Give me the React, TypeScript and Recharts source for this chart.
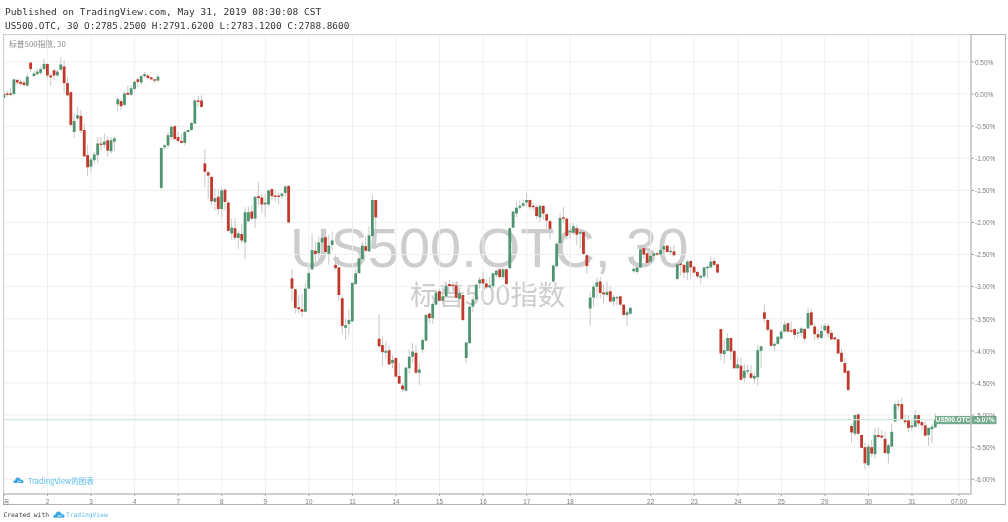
import { Bar, CartesianGrid, ComposedChart, ReferenceLine, XAxis, YAxis } from 'recharts'

const opens = [
  -0.06, 0.01, 0.01, 0, 0.22, 0.19, 0.18, 0.13, 0.49, 0.28,
  0.31, 0.33, 0.39, 0.47, 0.29, 0.37, 0.29, 0.38, 0.43, 0.17,
  0.03, -0.59, -0.38, -0.34, -0.56, -0.95, -1.13, -1.03, -0.95, -0.77,
  -0.79, -0.72, -0.89, -0.74, -0.16, -0.11, -0.17, 0.02, -0.01, 0.08,
  0.23, 0.18, 0.28, 0.29, 0.26, 0.23, 0.21, -1.46, -0.83, -0.8,
  -0.67, -0.5, -0.67, -0.73, -0.76, -0.59, -0.56, -0.46, -0.1, -0.1,
  -1.08, -1.22, -1.29, -1.68, -1.6, -1.79, -1.49, -1.69, -2.17, -2.09,
  -2.24, -2.18, -2.31, -1.98, -1.83, -1.94, -1.59, -1.61, -1.72, -1.72,
  -1.48, -1.58, -1.58, -1.59, -1.54, -1.43, -2.87, -3.04, -3.32, -3.35,
  -3.39, -3.03, -2.73, -2.44, -2.48, -2.31, -2.23, -2.49, -2.35, -2.66,
  -2.7, -3.18, -3.64, -3.58, -3.54, -2.96, -2.79, -2.57, -2.37, -2.45,
  -2.21, -1.65, -3.81, -3.91, -4.03, -3.99, -4.19, -4.11, -4.39, -4.54,
  -4.62, -4.27, -4.09, -4.03, -4.34, -3.98, -3.84, -3.42, -3.49, -3.28,
  -3.07, -3.22, -3.15, -2.96, -2.97, -2.98, -3.19, -3.13, -4.11, -3.88,
  -3.31, -3.2, -2.95, -2.88, -2.95, -3.01, -2.99, -2.82, -2.73, -2.85,
  -2.73, -2.71, -2.08, -1.86, -1.77, -1.74, -1.69, -1.65, -1.74, -1.76,
  -1.92, -1.74, -1.87, -1.98, -2.92, -2.68, -2.32, -1.92, -1.94, -2.15,
  -2.16, -2.09, -2.17, -2.15, -2.51, -3.34, -3.17, -3.0, -2.92, -3.09,
  -3.13, -3.07, -3.23, -3.17, -3.15, -3.28, -3.44, -3.42, -2.76, -2.77,
  -2.7, -2.4, -2.48, -2.61, -2.52, -2.48, -2.5, -2.42, -2.36, -2.46,
  -2.45, -2.88, -2.64, -2.66, -2.78, -2.6, -2.69, -2.77, -2.86, -2.84,
  -2.71, -2.7, -2.6, -2.65, -3.66, -4.05, -4.0, -3.8, -4.0, -4.27,
  -4.23, -4.42, -4.32, -4.35, -4.43, -4.41, -4.0, -3.4, -3.52, -3.67,
  -3.92, -3.89, -3.81, -3.7, -3.57, -3.68, -3.66, -3.73, -3.72, -3.66,
  -3.65, -3.4, -3.62, -3.74, -3.8, -3.68, -3.61, -3.72, -3.79, -3.82,
  -4.03, -4.19, -4.31, -5.17, -5.29, -4.99, -5.31, -5.5, -5.78, -5.5,
  -5.61, -5.31, -5.32, -5.37, -5.6, -5.49, -5.1, -4.83, -4.83, -5.08,
  -5.08, -5.19, -5.18, -5.0, -5.11, -5.16, -5.31, -5.22, -5.19,
]

const highs = [
  0.04, 0.05, 0.09, 0.23, 0.24, 0.23, 0.22, 0.31, 0.5, 0.36,
  0.4, 0.43, 0.56, 0.47, 0.32, 0.39, 0.38, 0.57, 0.53, 0.26,
  0.04, -0.3, -0.2, -0.25, -0.46, -0.79, -0.98, -0.9, -0.67, -0.67,
  -0.61, -0.66, -0.67, -0.67, -0.05, -0.07, 0.03, 0.13, 0.14, 0.22,
  0.26, 0.3, 0.35, 0.31, 0.27, 0.24, 0.3, -0.83, -0.77, -0.59,
  -0.48, -0.48, -0.59, -0.61, -0.57, -0.54, -0.43, -0.08, -0.03, -0.02,
  -0.86, -1.19, -1.28, -1.47, -1.48, -1.47, -1.47, -1.67, -1.94, -1.94,
  -2.13, -2.02, -1.76, -1.75, -1.73, -1.59, -1.37, -1.55, -1.56, -1.49,
  -1.47, -1.5, -1.53, -1.53, -1.42, -1.42, -2.72, -3.03, -3.13, -3.11,
  -2.95, -2.71, -2.18, -2.3, -2.22, -2.12, -2.09, -2.19, -2.14, -2.51,
  -2.69, -3.14, -3.49, -3.35, -2.93, -2.71, -2.38, -2.3, -2.22, -2.06,
  -1.57, -1.65, -3.43, -3.78, -3.86, -3.91, -4.06, -4.1, -4.19, -4.5,
  -4.25, -3.98, -3.88, -3.91, -4.19, -3.8, -3.43, -3.4, -3.23, -3.05,
  -3.03, -3.05, -2.95, -2.89, -2.92, -2.92, -3.05, -3.12, -3.86, -3.3,
  -3.15, -2.95, -2.85, -2.77, -2.89, -2.85, -2.78, -2.73, -2.7, -2.7,
  -2.71, -2.08, -1.82, -1.68, -1.66, -1.64, -1.54, -1.64, -1.7, -1.73,
  -1.73, -1.73, -1.86, -1.96, -2.66, -2.32, -1.86, -1.76, -1.92, -2.01,
  -2.01, -2.04, -2.11, -2.14, -2.49, -3.09, -2.97, -2.86, -2.85, -2.97,
  -2.92, -3.0, -3.13, -3.14, -3.14, -3.27, -3.36, -3.31, -2.69, -2.66,
  -2.35, -2.38, -2.46, -2.48, -2.45, -2.45, -2.4, -2.35, -2.35, -2.38,
  -2.35, -2.64, -2.61, -2.64, -2.58, -2.58, -2.66, -2.76, -2.82, -2.69,
  -2.67, -2.53, -2.55, -2.64, -3.66, -3.82, -3.73, -3.79, -3.99, -4.11,
  -4.11, -4.2, -4.22, -4.22, -4.35, -3.91, -3.91, -3.28, -3.49, -3.66,
  -3.86, -3.77, -3.67, -3.54, -3.55, -3.54, -3.65, -3.66, -3.63, -3.64,
  -3.32, -3.34, -3.57, -3.67, -3.6, -3.57, -3.58, -3.67, -3.78, -3.81,
  -3.97, -4.11, -4.3, -5.13, -4.99, -4.97, -5.3, -5.43, -5.44, -5.39,
  -5.2, -5.19, -5.23, -5.26, -5.44, -5.13, -4.79, -4.77, -4.73, -5.0,
  -5.0, -5.08, -4.92, -4.99, -5.1, -5.1, -5.18, -5.14, -4.97,
]

const lows = [
  -0.07, -0.04, -0.04, -0.01, 0.14, 0.13, 0.13, 0.12, 0.35, 0.27,
  0.29, 0.3, 0.38, 0.24, 0.13, 0.22, 0.27, 0.36, 0.01, -0.04,
  -0.51, -0.68, -0.41, -0.61, -0.98, -1.28, -1.22, -1.08, -1.08, -0.88,
  -0.84, -0.98, -0.93, -0.88, -0.26, -0.25, -0.18, -0.02, -0.03, 0.07,
  0.11, 0.15, 0.26, 0.23, 0.21, 0.16, 0.18, -1.49, -0.86, -0.85,
  -0.72, -0.72, -0.75, -0.77, -0.8, -0.6, -0.57, -0.47, -0.2, -0.21,
  -1.45, -1.63, -1.73, -1.82, -1.88, -1.92, -1.81, -2.14, -2.27, -2.28,
  -2.41, -2.32, -2.57, -1.99, -1.96, -2.08, -1.73, -1.86, -1.92, -1.75,
  -1.66, -1.68, -1.72, -1.63, -1.6, -2.01, -3.23, -3.42, -3.42, -3.47,
  -3.4, -3.04, -2.74, -2.69, -2.56, -2.32, -2.48, -2.66, -2.44, -2.74,
  -3.23, -3.74, -3.83, -3.75, -3.55, -2.97, -2.8, -2.58, -2.46, -2.46,
  -2.22, -2.19, -3.94, -4.24, -4.12, -4.22, -4.27, -4.41, -4.52, -4.65,
  -4.63, -4.35, -4.19, -4.36, -4.53, -4.04, -3.85, -3.57, -3.58, -3.29,
  -3.23, -3.26, -3.16, -3.0, -3.05, -3.19, -3.21, -3.53, -4.19, -3.89,
  -3.39, -3.22, -3.03, -3.03, -3.04, -3.02, -3.03, -2.85, -2.87, -2.89,
  -2.97, -2.73, -2.09, -1.92, -1.8, -1.76, -1.75, -1.8, -1.81, -1.94,
  -1.99, -1.96, -2.09, -2.26, -2.93, -2.71, -2.44, -2.01, -2.27, -2.25,
  -2.19, -2.35, -2.4, -2.51, -2.79, -3.61, -3.31, -3.18, -3.18, -3.26,
  -3.16, -3.25, -3.31, -3.29, -3.3, -3.46, -3.62, -3.44, -2.79, -2.8,
  -2.71, -2.56, -2.66, -2.64, -2.6, -2.52, -2.52, -2.45, -2.48, -2.51,
  -2.53, -2.9, -2.82, -2.87, -2.9, -2.87, -2.79, -2.87, -2.95, -2.87,
  -2.87, -2.71, -2.69, -2.79, -4.15, -4.2, -4.01, -4.14, -4.28, -4.28,
  -4.46, -4.49, -4.37, -4.44, -4.51, -4.54, -4.27, -3.56, -3.7, -3.94,
  -4.01, -3.91, -3.82, -3.71, -3.71, -3.71, -3.82, -3.8, -3.77, -3.86,
  -3.66, -3.61, -3.83, -3.83, -3.81, -3.7, -3.8, -3.83, -3.84, -4.05,
  -4.18, -4.35, -4.62, -5.43, -5.33, -5.31, -5.52, -5.85, -5.8, -5.65,
  -5.67, -5.36, -5.36, -5.62, -5.75, -5.5, -5.11, -4.92, -5.07, -5.14,
  -5.27, -5.24, -5.2, -5.17, -5.24, -5.33, -5.48, -5.44, -5.21,
]

const closes = [
  0, -0.01, -0.01, 0.23, 0.18, 0.16, 0.14, 0.27, 0.39, 0.32,
  0.35, 0.39, 0.47, 0.29, 0.26, 0.29, 0.35, 0.46, 0.17, -0.02,
  -0.48, -0.42, -0.33, -0.57, -0.97, -1.14, -1.02, -0.94, -0.77, -0.79,
  -0.74, -0.88, -0.72, -0.69, -0.08, -0.19, 0.01, -0.01, 0.09, 0.19,
  0.19, 0.28, 0.31, 0.25, 0.23, 0.21, 0.27, -0.84, -0.8, -0.64,
  -0.51, -0.7, -0.73, -0.76, -0.59, -0.56, -0.45, -0.1, -0.11, -0.2,
  -1.21, -1.27, -1.67, -1.62, -1.79, -1.5, -1.68, -2.13, -2.08, -2.24,
  -2.17, -2.28, -1.84, -1.84, -1.94, -1.6, -1.62, -1.72, -1.69, -1.5,
  -1.59, -1.59, -1.59, -1.55, -1.44, -2.0, -3.03, -3.33, -3.35, -3.39,
  -3.03, -2.79, -2.43, -2.49, -2.31, -2.24, -2.46, -2.36, -2.28, -2.71,
  -3.13, -3.61, -3.6, -3.52, -2.94, -2.79, -2.56, -2.36, -2.44, -2.2,
  -1.65, -1.92, -3.93, -4.02, -4.0, -4.21, -4.14, -4.4, -4.51, -4.6,
  -4.26, -4.09, -4.01, -4.34, -4.29, -3.83, -3.44, -3.49, -3.27, -3.09,
  -3.22, -3.15, -2.99, -2.99, -2.99, -3.17, -3.1, -3.52, -3.87, -3.31,
  -3.2, -2.97, -2.89, -2.95, -3.01, -2.98, -2.79, -2.75, -2.85, -2.73,
  -2.96, -2.09, -1.83, -1.77, -1.74, -1.7, -1.65, -1.76, -1.76, -1.9,
  -1.74, -1.86, -1.97, -2.1, -2.67, -2.33, -1.93, -1.94, -2.21, -2.13,
  -2.06, -2.19, -2.15, -2.49, -2.68, -3.17, -3.0, -2.93, -3.1, -3.12,
  -3.08, -3.23, -3.16, -3.16, -3.28, -3.44, -3.4, -3.33, -2.72, -2.7,
  -2.42, -2.5, -2.63, -2.52, -2.48, -2.49, -2.43, -2.37, -2.46, -2.44,
  -2.51, -2.65, -2.66, -2.78, -2.61, -2.7, -2.78, -2.84, -2.83, -2.7,
  -2.69, -2.61, -2.66, -2.78, -4.04, -3.99, -3.8, -4.01, -4.27, -4.21,
  -4.45, -4.31, -4.3, -4.42, -4.39, -3.99, -3.93, -3.5, -3.67, -3.92,
  -3.89, -3.78, -3.7, -3.59, -3.7, -3.7, -3.75, -3.71, -3.65, -3.81,
  -3.41, -3.6, -3.74, -3.79, -3.69, -3.61, -3.73, -3.82, -3.82, -4.04,
  -4.17, -4.34, -4.61, -5.27, -5.0, -5.29, -5.51, -5.75, -5.49, -5.6,
  -5.31, -5.34, -5.35, -5.59, -5.47, -5.26, -4.83, -4.85, -5.06, -5.11,
  -5.2, -5.16, -5.0, -5.13, -5.16, -5.32, -5.2, -5.18, -5.07,
]

const timeTicks = [0, 13, 26, 39, 52, 65, 78, 91, 104, 117, 130, 143, 156, 169, 193, 206, 219, 232, 245, 258, 271, 285]
const timeLabels = ['月', '2', '3', '4', '7', '8', '9', '10', '11', '14', '15', '16', '17', '18', '22', '23', '24', '25', '29', '30', '31', '07:00']
const percentTicks = [0.5, 0, -0.5, -1, -1.5, -2, -2.5, -3, -3.5, -4, -4.5, -5, -5.5, -6]
const LAST_PERCENT = -5.07

const UP_COLOR = '#4f9470'
const DOWN_COLOR = '#c0392b'
const WICK_COLOR = '#c8c8c8'
const AXIS_TEXT = '#7c7c7c'
const BRAND_BLUE = '#5bbcec'
const UI_FONT = '"Liberation Sans", Arial, sans-serif'
const CJK_FONT = '"Noto Sans CJK SC", "Liberation Sans", sans-serif'
const MONO_FONT = '"DejaVu Sans Mono", monospace'

const candles = opens.map((open, i) => ({
  slot: i,
  open,
  high: highs[i],
  low: lows[i],
  close: closes[i],
  range: [lows[i], highs[i]],
}))

function Candle(props: any) {
  const { x, y, width, height, payload } = props
  const { open, high, low, close } = payload
  const top = Math.min(y, y + height)
  const span = Math.abs(height)
  const perUnit = high === low ? 0 : span / (high - low)
  const bodyTop = top + (high - Math.max(open, close)) * perUnit
  const bodyHeight = Math.max(Math.abs(open - close) * perUnit, 1.4)
  const color = close >= open ? UP_COLOR : DOWN_COLOR
  const cx = x + width / 2
  return (
    <g>
      <line x1={cx} x2={cx} y1={top} y2={top + span} stroke={WICK_COLOR} strokeWidth={1} />
      <rect x={x + 0.1} y={bodyTop} width={width - 0.2} height={bodyHeight} fill={color} />
    </g>
  )
}

function TimeTick(props: any) {
  const { x, y, payload } = props
  const text = timeLabels[timeTicks.indexOf(payload.value)]
  // the first label is cut by the frame in the original, so it sits right of its tick
  const first = payload.value === 0
  return (
    <text
      x={first ? x + 2.5 : x}
      y={y + 5.5}
      textAnchor="middle"
      fontSize={first ? 5.5 : 6.4}
      fill={AXIS_TEXT}
      fontFamily={first ? CJK_FONT : UI_FONT}
    >
      {text}
    </text>
  )
}

function PriceTag(props: any) {
  const y = props.viewBox.y
  return (
    <g fontFamily={UI_FONT} fontSize={6.3} fontWeight="bold" fill="#fff">
      <rect x={935} y={y - 3.6} width={35.5} height={8.2} fill="#73ab8c" />
      <rect x={971.5} y={y - 3.6} width={25} height={8.2} fill="#73ab8c" />
      <text x={953} y={y + 2.7} textAnchor="middle">US500.OTC</text>
      <text x={984.5} y={y + 2.7} textAnchor="middle">{LAST_PERCENT.toFixed(2)}%</text>
    </g>
  )
}

function CloudIcon({ left, top, width }: { left: number; top: number; width: number }) {
  return (
    <svg
      viewBox="0 0 24 14"
      width={width}
      height={(width * 14) / 24}
      style={{ position: 'absolute', left, top }}
    >
      <path
        d="M2 13.5 C-1 11 1 7 4.5 7.5 C5 3 9 0 13 1.5 C15.5 2.5 16.5 4 17 6 C20 5.5 24 8 23 11 C22.5 13 21 13.5 19 13.5 Z"
        fill="#3ba6df"
      />
      <path d="M9 13.5 L13 8 L15.5 11 L18 8.5" stroke="#fff" strokeWidth={1.6} fill="none" />
    </svg>
  )
}

function label(text: string, style: React.CSSProperties) {
  return (
    <div style={{ position: 'absolute', whiteSpace: 'nowrap', lineHeight: 1, ...style }}>
      {text}
    </div>
  )
}

export default function App() {
  return (
    <div
      style={{
        position: 'absolute',
        left: 0,
        top: 0,
        width: 1008,
        height: 522,
        background: '#fff',
        overflow: 'hidden',
        filter: 'blur(0.35px)',
      }}
    >
      {label('Published on TradingView.com, May 31, 2019 08:30:08 CST', {
        left: 5, top: 7, fontFamily: MONO_FONT, fontSize: 9.55, color: '#333',
      })}
      {label('US500.OTC, 30 O:2785.2500 H:2791.6200 L:2783.1200 C:2788.8600', {
        left: 5, top: 21, fontFamily: MONO_FONT, fontSize: 9.4, color: '#333',
      })}

      <div style={{ position: 'absolute', left: 3, top: 34, width: 1001, height: 469, border: '1px solid #b4b4b4' }} />

      {label('US500.OTC, 30', {
        left: 290, top: 219.5, fontFamily: UI_FONT, fontSize: 56, color: '#cdcdcd',
      })}
      {label('标普500指数', {
        left: 410, top: 280, fontFamily: CJK_FONT, fontSize: 27.4, color: '#cdcdcd',
      })}
      {label('标普500指数, 30', {
        left: 9, top: 40, fontFamily: CJK_FONT, fontSize: 7.8, color: '#8c8c8c',
      })}

      <div style={{ position: 'absolute', left: 0, top: 0 }}>
        <ComposedChart
          width={1008}
          height={522}
          data={candles}
          margin={{ top: 35, right: 3, bottom: 18, left: 4 }}
        >
          <CartesianGrid stroke="#efefef" />
          <XAxis
            dataKey="slot"
            type="number"
            domain={[0, 288.6]}
            allowDataOverflow
            ticks={timeTicks}
            interval={0}
            height={10}
            tickSize={2}
            stroke="#a8a8a8"
            tick={TimeTick}
          />
          <YAxis
            orientation="right"
            type="number"
            domain={[-6.229, 0.92]}
            allowDataOverflow
            ticks={percentTicks}
            interval={0}
            width={34}
            tickSize={3}
            tickMargin={1}
            stroke="#a8a8a8"
            tick={{ fontSize: 6.4, fill: AXIS_TEXT, fontFamily: UI_FONT, textAnchor: 'start', dy: 0.5 }}
            tickFormatter={(v: number) => `${v.toFixed(2)}%`}
          />
          <Bar dataKey="range" barSize={3} shape={Candle} isAnimationActive={false} />
          <ReferenceLine y={LAST_PERCENT} stroke="#d3e6da" strokeWidth={1.2} label={PriceTag} />
        </ComposedChart>
      </div>

      <CloudIcon left={13} top={477} width={11} />
      {label('TradingView的图表', {
        left: 28, top: 477, fontFamily: CJK_FONT, fontSize: 7.5, color: BRAND_BLUE,
      })}
      {label('Created with', {
        left: 3.5, top: 512, fontFamily: MONO_FONT, fontSize: 6.3, color: '#3a3a3a',
      })}
      <CloudIcon left={53} top={511} width={12} />
      {label('TradingView', {
        left: 66, top: 512, fontFamily: MONO_FONT, fontSize: 6.3, color: BRAND_BLUE,
      })}
    </div>
  )
}
